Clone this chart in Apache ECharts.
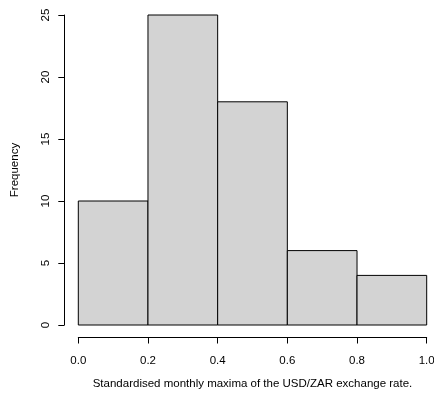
<!DOCTYPE html>
<html><head><meta charset="utf-8">
<script src="https://cdn.jsdelivr.net/npm/echarts@6/dist/echarts.min.js"></script>
<style>html,body{margin:0;padding:0;background:#fff}#c{width:434px;height:393px}</style>
</head><body><div id="c"></div>
<script>
const binStarts = [0.0, 0.2, 0.4, 0.6, 0.8];
const binEnds   = [0.2, 0.4, 0.6, 0.8, 1.0];
const counts    = [10, 25, 18, 6, 4];
const xTitle = "Standardised monthly maxima of the USD/ZAR exchange rate.";
const yTitle = "Frequency";

const data = binStarts.map((s, i) => [s, binEnds[i], counts[i]]);
const font = "Liberation Sans, Arial, Helvetica, sans-serif";
const fs = 11.5;
const chart = echarts.init(document.getElementById('c'), null, {renderer: 'canvas'});
chart.setOption({
  animation: false,
  backgroundColor: '#fff',
  grid: {left: 78.3, right: 7.3, top: 15, bottom: 68, containLabel: false, outerBoundsMode: 'none'},
  xAxis: {
    type: 'value', min: 0, max: 1, interval: 0.2, offset: 12.5,
    name: xTitle, nameLocation: 'middle', nameGap: 40,
    nameTextStyle: {fontFamily: font, fontSize: fs, color: '#000'},
    axisLine: {show: true, onZero: false, lineStyle: {color: '#000', width: 1}},
    axisTick: {show: true, length: 6, lineStyle: {color: '#000'}},
    axisLabel: {fontFamily: font, fontSize: fs, color: '#000', margin: 17,
      formatter: v => v.toFixed(1)},
    splitLine: {show: false}
  },
  yAxis: {
    type: 'value', min: 0, max: 25, interval: 5, offset: 14,
    name: yTitle, nameLocation: 'middle', nameGap: 43,
    nameTextStyle: {fontFamily: font, fontSize: fs, color: '#000'},
    axisLine: {show: true, onZero: false, lineStyle: {color: '#000', width: 1}},
    axisTick: {show: true, length: 6, lineStyle: {color: '#000'}},
    axisLabel: {fontFamily: font, fontSize: fs, color: '#000', margin: 12, rotate: 90},
    splitLine: {show: false}
  },
  series: [{
    type: 'custom',
    data: data,
    encode: {x: [0, 1], y: 2},
    renderItem: function (params, api) {
      const p0 = api.coord([api.value(0), 0]);
      const p1 = api.coord([api.value(1), api.value(2)]);
      return {
        type: 'rect',
        shape: {x: p0[0], y: p1[1], width: p1[0] - p0[0], height: p0[1] - p1[1]},
        style: {fill: '#D3D3D3', stroke: '#000', lineWidth: 1}
      };
    }
  }]
});
</script></body></html>
